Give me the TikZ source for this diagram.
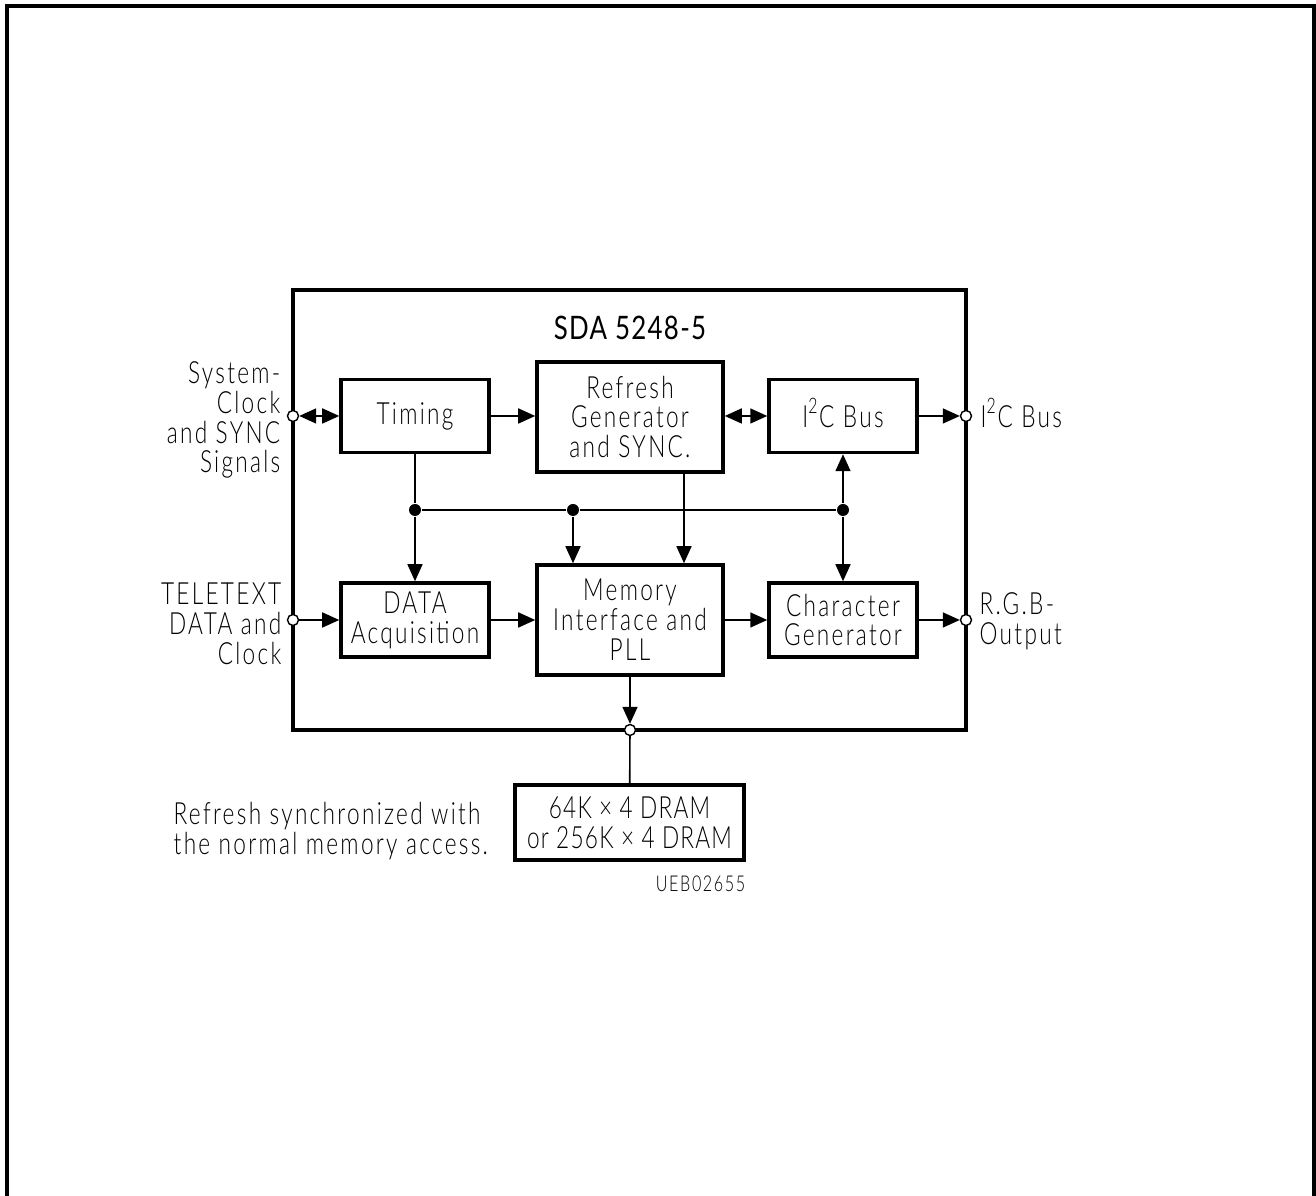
\documentclass[tikz,border=0pt]{standalone}
\usepackage{fontspec}
\setmainfont{Lato Light}[FakeStretch=0.74,LetterSpace=7.5]
\newfontfamily\titlefont{Lato}[FakeStretch=0.8,LetterSpace=4]
\usetikzlibrary{arrows.meta,positioning}

\tikzset{
  block/.style={draw, line width=1pt, minimum width=1.48cm, minimum height=0.73cm,
    align=center, inner sep=0pt},
  wideblock/.style={block, minimum width=1.86cm, minimum height=1.10cm},
  pin/.style={circle, draw, fill=white, line width=0.4pt, inner sep=0pt, minimum size=0.11cm},
  dot/.style={circle, fill, inner sep=0pt, minimum size=0.12cm},
  wire/.style={line width=0.45pt},
  sig/.style={wire, ->},
  bisig/.style={wire, <->},
  lbl/.style={inner sep=0pt},
}

\begin{document}
\begin{tikzpicture}[>={Triangle[length=0.17cm,width=0.15cm]},
    every node/.style={font=\fontsize{8.7}{8.5}\selectfont}]
  \useasboundingbox (0,0) rectangle (13.16,11.96);
  % ---- page frame (open at the bottom) ----
  \draw[line width=1.1pt] (0.07,0) -- (0.07,11.90) -- (13.14,11.90) -- (13.14,0);

  % ---- chip outline ----
  \draw[line width=1pt] (2.93,4.66) rectangle (9.66,9.06);
  \node[font=\titlefont\fontsize{9.2}{9}\selectfont] (title) at (6.30,8.68) {SDA 5248-5};

  % ---- function blocks ----
  \node[block] (timing) at (4.15,7.80) {Timing};
  \node[wideblock] (refresh) at (6.30,7.79) {Refresh\\Generator\\and SYNC.};
  \node[block] (iic) at (8.43,7.80) {\raisebox{0.06cm}{I\textsuperscript{2}C Bus}};
  \node[block, minimum height=0.74cm] (acq) at (4.15,5.76) {DATA\\Acquisition};
  \node[wideblock] (memory) at (6.30,5.76) {Memory\\Interface and\\PLL};
  \node[block, minimum height=0.74cm] (chargen) at (8.43,5.76) {Character\\Generator};
  \node[block, minimum width=2.29cm, minimum height=0.75cm,
    font=\fontsize{8.7}{8.5}\selectfont\addfontfeatures{LetterSpace=4}] (dram) at (6.295,3.735)
    {64K × 4 DRAM\\or 256K × 4 DRAM};

  % ---- pins on the chip outline ----
  \node[pin] (pinSys) at (2.93,7.80) {};
  \node[pin] (pinTtx) at (2.93,5.76) {};
  \node[pin] (pinIic) at (9.66,7.80) {};
  \node[pin] (pinRgb) at (9.66,5.76) {};
  \node[pin] (pinMem) at (6.30,4.66) {};

  % ---- internal bus ----
  \node[dot] (busT) at (4.15,6.86) {};
  \node[dot] (busM) at (5.73,6.86) {};
  \node[dot] (busC) at (8.43,6.86) {};
  \draw[wire] (busT) -- (busM) -- (busC);
  \draw[wire] (timing) -- (busT);
  \draw[sig] (busT) -- (acq);
  \draw[sig] (busM) -- (busM |- memory.north);
  \draw[sig] ([xshift=0.54cm]refresh.south) -- ([xshift=0.54cm]memory.north);
  \draw[sig] (busC) -- (iic);
  \draw[sig] (busC) -- (chargen);

  % ---- signal flow ----
  \draw[bisig] (pinSys) -- (timing);
  \draw[sig] (timing) -- (refresh.west |- timing);
  \draw[bisig] (refresh.east |- iic) -- (iic);
  \draw[sig] (iic) -- (pinIic);
  \draw[sig] (pinTtx) -- (acq);
  \draw[sig] (acq) -- (memory.west |- acq);
  \draw[sig] (memory.east |- chargen) -- (chargen);
  \draw[sig] (chargen) -- (pinRgb);
  \draw[sig] (memory) -- (pinMem);
  \draw[wire] (pinMem) -- (dram);

  % ---- pin labels ----
  \node[lbl, anchor=east, align=right] (sysLbl) at (2.81,7.76) {System-\\Clock\\and SYNC\\Signals};
  \node[lbl, anchor=east, align=right] (ttxLbl) at (2.82,5.72) {TELETEXT\\DATA and\\Clock};
  \node[lbl, anchor=west] (iicLbl) at (9.80,7.83) {I\textsuperscript{2}C Bus};
  \node[lbl, anchor=west, align=left] (rgbLbl) at (9.79,5.75) {R.G.B-\\Output};

  % ---- notes ----
  \node[lbl, anchor=west, align=left] (note) at (1.73,3.645)
    {Refresh synchronized with\\the normal memory access.};
  \node[lbl, anchor=east, font=\fontsize{6.2}{6}\selectfont] (code) at (7.46,3.12) {UEB02655};
\end{tikzpicture}
\end{document}
